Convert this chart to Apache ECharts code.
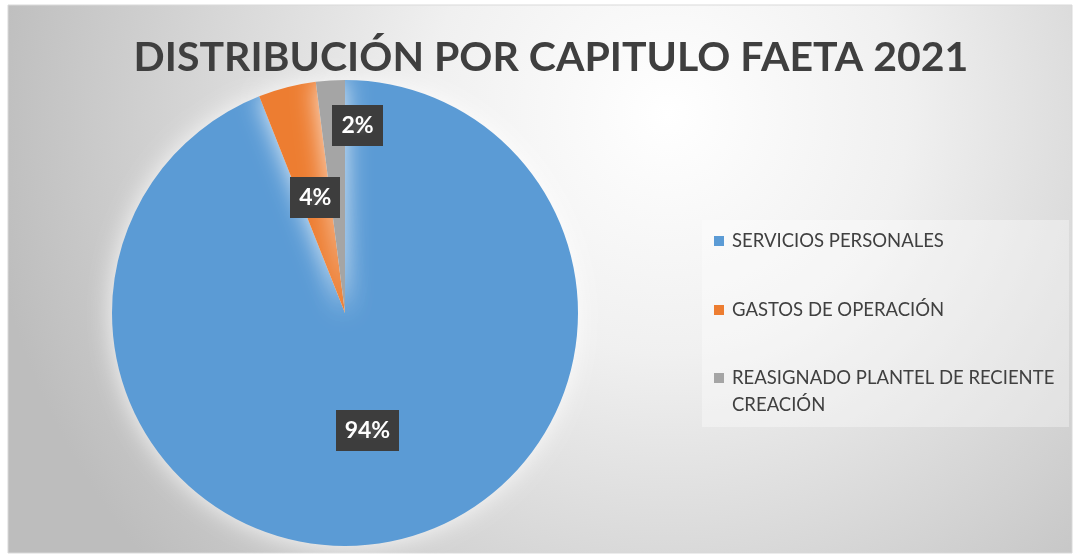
<!DOCTYPE html>
<html>
<head>
<meta charset="utf-8">
<script src="https://cdn.jsdelivr.net/npm/echarts@6/dist/echarts.min.js"></script>
<style>
  html, body { margin: 0; padding: 0; background: #fff; }
  #chart { width: 1074px; height: 555px; }
</style>
</head>
<body>
<div id="chart"></div>
<script>
// datos del grafico
const categories = [
  "SERVICIOS PERSONALES",
  "GASTOS DE OPERACIÓN",
  "REASIGNADO PLANTEL DE RECIENTE CREACIÓN",
];
const values = [94, 4, 2];
const colors = ["#5b9bd5", "#ed7d31", "#a5a5a5"];
const titleText = "DISTRIBUCIÓN POR CAPITULO FAETA 2021";

(function () {
  const chart = echarts.init(document.getElementById("chart"));

  // patron punteado para las etiquetas
  const pat = document.createElement("canvas");
  pat.width = 6;
  pat.height = 6;
  const ctx = pat.getContext("2d");
  ctx.fillStyle = "#3d3d3d";
  ctx.fillRect(0, 0, 6, 6);
  ctx.fillStyle = "#4c4c4c";
  ctx.fillRect(2, 2, 2, 2);

  const legendText = {
    fontFamily: "Lato",
    fontSize: 18.5,
    color: "#404040",
    lineHeight: 27,
    padding: [0, 0, 0, 3],
  };

  const option = {
    animation: false,
    graphic: [
      {
        type: "rect",
        silent: true,
        z: -10,
        shape: { x: 8, y: 5, width: 1064, height: 548 },
        style: {
          fill: {
            type: "radial",
            x: 0.62,
            y: 0.2,
            r: 1.25,
            colorStops: [
              { offset: 0, color: "#ffffff" },
              { offset: 0.35, color: "#f0f0f0" },
              { offset: 1, color: "#bdbdbd" },
            ],
          },
          stroke: "#d9d9d9",
          lineWidth: 1,
        },
      },
      // fondo de la leyenda
      {
        type: "rect",
        silent: true,
        z: -5,
        shape: { x: 702, y: 220, width: 367, height: 207 },
        style: { fill: "rgba(255,255,255,0.35)" },
      },
    ],
    title: {
      text: titleText,
      left: 546,
      top: 32,
      textAlign: "center",
      textStyle: {
        fontFamily: "Lato",
        fontWeight: "bold",
        fontSize: 41,
        color: "#3f3f3f",
      },
    },
    legend: [
      {
        orient: "vertical",
        left: 714,
        top: 227.5,
        padding: 0,
        itemGap: 42,
        itemWidth: 10,
        itemHeight: 10,
        icon: "rect",
        data: [categories[0], categories[1]],
        textStyle: legendText,
      },
      {
        orient: "vertical",
        left: 714,
        top: 337.5,
        padding: 0,
        itemWidth: 10,
        itemHeight: 10,
        icon: "rect",
        data: [categories[2]],
        // linea vacia al inicio para alinear el icono con la primera linea
        formatter: function () {
          return "\nREASIGNADO PLANTEL DE RECIENTE\nCREACIÓN";
        },
        textStyle: legendText,
      },
    ],
    series: [
      {
        type: "pie",
        center: [345, 313],
        radius: 233,
        startAngle: 90,
        clockwise: true,
        color: colors,
        itemStyle: {
          shadowBlur: 25,
          shadowColor: "rgba(255,255,255,0.85)",
        },
        label: {
          position: "inside",
          formatter: "{d}%",
          fontFamily: "Lato",
          fontWeight: "bold",
          fontSize: 23,
          lineHeight: 25,
          color: "#ffffff",
          backgroundColor: { image: pat, repeat: "repeat" },
          padding: [8, 9, 8, 9],
          shadowBlur: 6,
          shadowOffsetX: 3,
          shadowOffsetY: 4,
          shadowColor: "rgba(0,0,0,0.45)",
        },
        labelLayout: function (params) {
          if (params.dataIndex === 2) {
            return { dx: 20, dy: -68 };
          }
          return {};
        },
        labelLine: { show: false },
        emphasis: { disabled: true },
        data: categories.map(function (name, i) {
          return { name: name, value: values[i] };
        }),
      },
    ],
  };
  chart.setOption(option);

  window.addEventListener("resize", function () {
    chart.resize();
  });
})();
</script>
</body>
</html>
